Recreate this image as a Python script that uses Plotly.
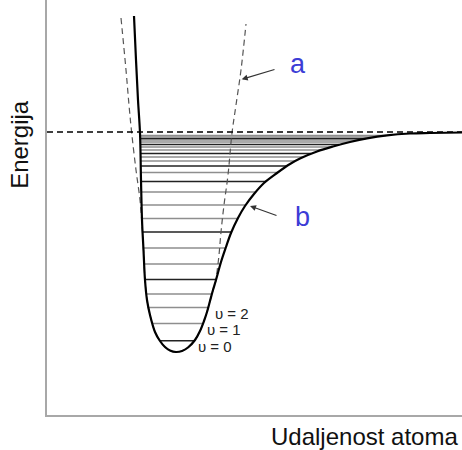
import plotly.graph_objects as go

# Morse potential curve (distance r, energy E)
morse_r = [87, 89, 91, 93, 94, 95, 96.5, 98, 100, 103, 108, 113, 118, 123, 129, 135, 141, 148,
           153, 157, 160, 163, 166, 169, 174, 179, 184, 191, 198, 207, 217, 230, 243, 253, 270,
           286, 303, 320, 340, 363, 383, 415]
morse_E = [399, 355, 315, 282, 235, 195, 165, 135, 115, 100, 83, 74, 68, 64.5, 63, 64, 67.5, 75,
           84, 94, 103, 114, 125, 135, 153, 168, 182, 197, 209, 221, 232, 242, 251, 256.5, 263.5,
           268.5, 273, 276.7, 279.7, 281.5, 282, 282.5]

# Harmonic (parabolic) approximation, dashed
harm_r = [74, 79, 82, 84.7, 89, 93, 95, 96.5, 98, 100, 103, 108, 113, 118, 123, 129, 135, 141, 148,
          153, 157, 160, 163, 166, 169, 170, 172, 174, 177, 181, 185, 189, 194, 199]
harm_E = [397, 345, 310, 282, 245, 215, 190, 165, 135, 115, 100, 83, 74, 68, 64.5, 63, 64, 67.5, 75,
          84, 94, 103, 114, 125, 135, 143, 160, 183, 210, 240, 282, 310, 345, 391]

# Vibrational levels: energy, left and right turning points, shade
level_E = [74.3, 91.5, 107.5, 121, 135.5, 151, 167, 183, 196.5, 210, 223, 233.5, 242.5, 249,
           254, 258, 261.5, 265, 268, 270.5, 273, 275, 276.5, 278, 279.5]
level_rl = [113, 105, 101.5, 99, 98, 97, 96.3, 95.5, 95, 94.5, 94, 94, 93.5, 93.5,
            93, 93, 93, 93, 93, 93, 93, 93, 93, 93, 93]
level_rr = [148, 156.5, 161.5, 165, 169, 173.5, 179, 184.5, 191, 199, 209, 219, 230, 240,
            248, 256, 264, 273, 283, 292, 303, 311, 319, 328, 339]
level_dark = [1, 0, 0, 0, 1, 0, 0, 1, 0, 0, 0, 1, 0, 1, 0, 0, 1, 0, 0, 1, 0, 0, 1, 0, 0]

dissociation_E = 283
v_labels = ["υ = 0", "υ = 1", "υ = 2"]
v_label_r = [149, 158, 166]

font = "Liberation Sans, Arial, sans-serif"
fig = go.Figure()

for E, rl, rr, d in zip(level_E, level_rl, level_rr, level_dark):
    fig.add_trace(go.Scatter(x=[rl, rr], y=[E, E], mode="lines",
                             line=dict(color="#222222" if d else "#8e8e8e", width=1.4),
                             hoverinfo="skip", showlegend=False))

fig.add_trace(go.Scatter(x=harm_r, y=harm_E, mode="lines", line_shape="spline",
                         line=dict(color="#555555", width=1.2, dash="6px,4px"),
                         showlegend=False))

fig.add_trace(go.Scatter(x=[0, 415], y=[dissociation_E, dissociation_E], mode="lines",
                         line=dict(color="#000000", width=1.5, dash="6px,4px"),
                         showlegend=False))

fig.add_trace(go.Scatter(x=morse_r, y=morse_E, mode="lines", line_shape="spline",
                         line=dict(color="#000000", width=2.2), showlegend=False))

ann = []
for lab, r, E in zip(v_labels, v_label_r, level_E[:3]):
    ann.append(dict(x=r, y=E - 6, text=lab, showarrow=False, xanchor="left",
                    font=dict(family=font, size=15, color="#222222")))

# arrows
ann.append(dict(x=194.7, y=335.7, ax=229, ay=346, axref="x", ayref="y", text="",
                showarrow=True, arrowhead=2, arrowsize=1, arrowwidth=1.2, arrowcolor="#333333"))
ann.append(dict(x=203, y=209, ax=231, ay=199, axref="x", ayref="y", text="",
                showarrow=True, arrowhead=2, arrowsize=1, arrowwidth=1.2, arrowcolor="#333333"))
ann.append(dict(x=251, y=351, text="a", showarrow=False,
                font=dict(family=font, size=27, color="#3c3cd6")))
ann.append(dict(x=255.5, y=198.5, text="b", showarrow=False,
                font=dict(family=font, size=27, color="#3c3cd6")))
ann.append(dict(x=-0.065, y=0.651, xref="paper", yref="paper", text="Energija",
                showarrow=False, textangle=-90, xanchor="center", yanchor="middle",
                font=dict(family=font, size=24, color="#111111")))
ann.append(dict(x=0.995, y=-0.052, xref="paper", yref="paper", text="Udaljenost atoma",
                showarrow=False, xanchor="right", yanchor="middle",
                font=dict(family=font, size=24, color="#111111")))

fig.update_layout(
    width=462, height=450,
    margin=dict(l=47, r=0, t=0, b=35),
    paper_bgcolor="white", plot_bgcolor="white",
    annotations=ann,
    xaxis=dict(range=[0, 415], showgrid=False, zeroline=False, showticklabels=False,
               ticks="", showline=True, linecolor="#a8a8a8", linewidth=2),
    yaxis=dict(range=[0, 415], showgrid=False, zeroline=False, showticklabels=False,
               ticks="", showline=True, linecolor="#a8a8a8", linewidth=2),
)

fig.write_html("out.html", config={"displayModeBar": False},
               post_script="document.body.style.margin='0';")
